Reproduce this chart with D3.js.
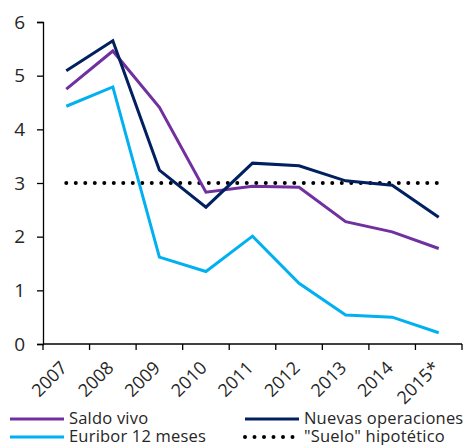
<!DOCTYPE html>
<html>
<head>
<meta charset="utf-8">
<script src="https://cdn.jsdelivr.net/npm/d3@7"></script>
<style>
  body { margin: 0; background: #fff; }
  text { font-family: "Open Sans", sans-serif; fill: #262626; }
</style>
</head>
<body>
<svg id="chart" width="470" height="445"></svg>
<script>
const years = ["2007", "2008", "2009", "2010", "2011", "2012", "2013", "2014", "2015*"];
const saldoVivo = [4.75, 5.46, 4.41, 2.83, 2.94, 2.92, 2.28, 2.09, 1.78];
const nuevasOps = [5.09, 5.65, 3.24, 2.55, 3.37, 3.32, 3.04, 2.96, 2.36];
const euribor = [4.43, 4.79, 1.62, 1.35, 2.01, 1.13, 0.54, 0.50, 0.21];
const suelo = [3, 3, 3, 3, 3, 3, 3, 3, 3];
const yTicks = [0, 1, 2, 3, 4, 5, 6];

const series = [
  { name: "Saldo vivo", values: saldoVivo, color: "#7030a0", dotted: false },
  { name: "Nuevas operaciones", values: nuevasOps, color: "#002060", dotted: false },
  { name: "Euribor 12 meses", values: euribor, color: "#00b0f0", dotted: false },
  { name: "\"Suelo\" hipotético", values: suelo, color: "#000000", dotted: true },
];

const svg = d3.select("#chart");

const x = d3.scaleBand().domain(years).range([43, 462]);
const y = d3.scaleLinear().domain([0, 6]).range([344, 22]);

// y axis
svg.append("g")
  .attr("transform", "translate(43,0)")
  .call(d3.axisLeft(y).tickValues(yTicks).tickFormat(d3.format("d")).tickSize(6).tickPadding(12))
  .call((g) => g.selectAll("text").style("font-size", "19px").attr("fill", "#262626"))
  .call((g) => g.selectAll(".domain, .tick line").attr("stroke", "#000").attr("stroke-width", 1.3));

// x axis, ticks on band edges
const xAxis = svg.append("g").attr("transform", "translate(0,344)");
xAxis.append("line")
  .attr("x1", 43).attr("x2", 462)
  .attr("stroke", "#000").attr("stroke-width", 1.3);
const edges = years.map((d) => x(d)).concat([x.range()[1]]);
xAxis.selectAll(".edge")
  .data(edges)
  .enter()
  .append("line")
  .attr("x1", (d) => d).attr("x2", (d) => d)
  .attr("y1", 0).attr("y2", 6)
  .attr("stroke", "#000").attr("stroke-width", 1.3);
xAxis.selectAll(".lbl")
  .data(years)
  .enter()
  .append("text")
  .attr("text-anchor", "end")
  .attr("transform", (d) => `translate(${x(d) + x.bandwidth() / 2 + 2},${25}) rotate(-45)`)
  .style("font-size", "18px")
  .text((d) => d);

const line = d3.line()
  .x((d, i) => x(years[i]) + x.bandwidth() / 2)
  .y((d) => y(d));

// dotted floor first, then the solid lines over it
series.filter((s) => s.dotted).forEach((s) => {
  svg.append("path")
    .attr("d", line(s.values))
    .attr("fill", "none")
    .attr("stroke", s.color)
    .attr("stroke-width", 4)
    .attr("stroke-linecap", "round")
    .attr("stroke-dasharray", "0 9.5");
});
series.filter((s) => !s.dotted).forEach((s) => {
  svg.append("path")
    .attr("d", line(s.values))
    .attr("fill", "none")
    .attr("stroke", s.color)
    .attr("stroke-width", 3);
});

// legend
const legendPos = [
  { x: 10, y: 419 },
  { x: 245, y: 419 },
  { x: 10, y: 437 },
  { x: 245, y: 437 },
];
series.forEach((s, i) => {
  const p = legendPos[i];
  const g = svg.append("g").attr("transform", `translate(${p.x},${p.y})`);
  g.append("line")
    .attr("x1", 0).attr("x2", 54)
    .attr("stroke", s.color)
    .attr("stroke-width", s.dotted ? 4 : 3)
    .attr("stroke-linecap", s.dotted ? "round" : "butt")
    .attr("stroke-dasharray", s.dotted ? "0 9.5" : null);
  g.append("text")
    .attr("x", 59)
    .attr("y", 5)
    .style("font-size", "16.5px")
    .style("letter-spacing", "0.2px")
    .text(s.name);
});
</script>
</body>
</html>
